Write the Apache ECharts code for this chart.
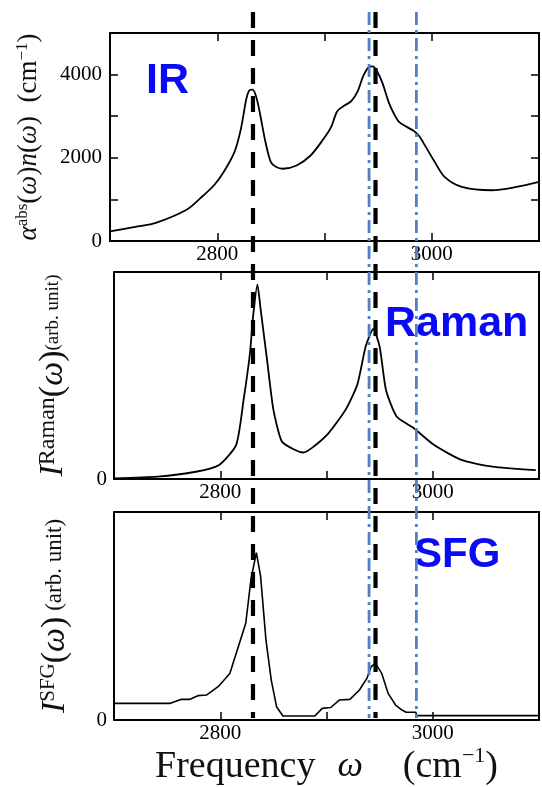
<!DOCTYPE html>
<html>
<head>
<meta charset="utf-8">
<script src="https://cdn.jsdelivr.net/npm/echarts@6/dist/echarts.min.js"></script>
<style>
  html, body { margin: 0; padding: 0; background: #fff; }
  #main { width: 542px; height: 787px; }
</style>
</head>
<body>
<div id="main"></div>
<script>
// IR absorption spectrum (cm^-1)
var irFreq = [2700, 2726, 2742, 2771, 2784, 2797, 2806, 2816, 2822, 2827, 2830, 2833, 2837, 2842, 2845, 2850, 2855, 2861,
  2874, 2887, 2899, 2906, 2912, 2919, 2925, 2931, 2936, 2941, 2945, 2949, 2954, 2960, 2965, 2970, 2983, 2988, 2992,
  3002, 3012, 3028, 3056, 3079, 3100];
var irAbs = [230, 350, 428, 745, 1024, 1340, 1658, 2135, 2689, 3403, 3625, 3640, 3403, 2768, 2372, 1896, 1777, 1737,
  1815, 2055, 2450, 2730, 3125, 3261, 3360, 3602, 3960, 4175, 4200, 4080, 3800, 3325, 3046, 2850, 2650, 2530, 2370,
  1935, 1540, 1300, 1220, 1300, 1420];

// Raman intensity (arb. unit)
var ramanFreq = [2700, 2741, 2777, 2799, 2815, 2822, 2828, 2831, 2835, 2838, 2844, 2850, 2858, 2870, 2878, 2886, 2902,
  2918, 2929, 2937, 2944, 2950, 2956, 2966, 2982, 3001, 3027, 3056, 3097];
var ramanInt = [0.3, 1.1, 3.5, 6.8, 16.5, 38.3, 61, 79, 94, 82, 57.8, 33.5, 18.1, 14.1, 12.8, 14.9, 22.2,
  33.5, 45.6, 64.2, 72.5, 64, 43, 30.2, 24.6, 16.5, 9.2, 6, 4.3];

// SFG intensity (arb. unit)
var sfgFreq = [2700, 2753, 2763, 2771, 2779, 2787, 2798, 2809, 2817, 2824, 2829, 2834, 2838, 2843, 2848, 2853, 2859,
  2889, 2896, 2904, 2912, 2922, 2931, 2938, 2942, 2946, 2952, 2958, 2965, 2971, 2975, 2984, 2985, 3100];
var sfgInt = [8.0, 8.0, 9.9, 9.9, 11.7, 12, 16, 22.4, 35.2, 46.5, 68, 80.5, 69, 38.5, 19.2, 6.4, 1.9,
  1.9, 5.6, 6, 9.6, 9.9, 14.4, 20, 25.6, 27.2, 22.4, 12.8, 7.2, 4.8, 3.7, 3.7, 2.1, 2.1];

// guide lines across all panels
var blackLineFreq = [2833, 2947];
var blueLineFreq = [2941, 2985];

// tick labels shown
var xTickLabels = [2800, 3000];
var irTickLabels = [0, 2000, 4000];
var intTickLabels = [0];

var myChart = echarts.init(document.getElementById('main'));

function pairs(xs, ys) {
  var out = [];
  for (var i = 0; i < xs.length; i++) out.push([xs[i], ys[i]]);
  return out;
}

var serif = 'Liberation Serif';
var frame = { show: true, onZero: false, lineStyle: { color: '#000', width: 2 } };

function bottomX(gi, showName) {
  return {
    type: 'value', gridIndex: gi, min: 2700, max: 3100, interval: 100, position: 'bottom',
    axisLine: frame,
    axisTick: { show: true, inside: true, length: 8, lineStyle: { color: '#000', width: 1.5 } },
    splitLine: { show: false },
    axisLabel: {
      color: '#000', fontFamily: serif, fontSize: 21, margin: 3,
      formatter: function (v) { return xTickLabels.indexOf(v) >= 0 ? String(v) : ''; }
    },
    name: showName ? '{t|Frequency}{g1|}{w|ω}{g2|}{t|(cm}{s|−1}{t|)}' : '',
    nameLocation: 'middle', nameGap: 23,
    nameTextStyle: {
      rich: {
        t: { fontFamily: serif, fontSize: 38, color: '#111', lineHeight: 44 },
        w: { fontFamily: serif, fontSize: 36, fontStyle: 'italic', color: '#111', lineHeight: 44 },
        s: { fontFamily: serif, fontSize: 22, color: '#111', lineHeight: 22, verticalAlign: 'top' },
        g1: { width: 22 },
        g2: { width: 40 }
      }
    }
  };
}
function topX(gi) {
  return {
    type: 'value', gridIndex: gi, min: 2700, max: 3100, interval: 100, position: 'top',
    axisLine: frame,
    axisTick: { show: true, inside: true, length: 8, lineStyle: { color: '#000', width: 1.5 } },
    axisLabel: { show: false }, splitLine: { show: false }
  };
}

var option = {
  animation: false,
  backgroundColor: '#fff',
  grid: [
    { left: 110, top: 33, width: 430, height: 208 },
    { left: 114, top: 272, width: 426, height: 207 },
    { left: 114, top: 512, width: 427, height: 208 },
    { left: 110, top: 12, width: 430, height: 706 }
  ],
  xAxis: [
    bottomX(0, false), topX(0),
    bottomX(1, false), topX(1),
    bottomX(2, true), topX(2),
    { type: 'value', gridIndex: 3, min: 2700, max: 3100, show: false }
  ],
  yAxis: [
    {
      type: 'value', gridIndex: 0, min: 0, max: 5000, interval: 1000, position: 'left',
      axisLine: frame,
      axisTick: { show: true, inside: true, length: 8, lineStyle: { color: '#000', width: 1.5 } },
      splitLine: { show: false },
      axisLabel: {
        color: '#000', fontFamily: serif, fontSize: 21, margin: 8,
        formatter: function (v) { return irTickLabels.indexOf(v) >= 0 ? String(v) : ''; }
      },
      name: '{i|α}{s|abs}{m|(}{i|ω}{m|)}{i|n}{m|(}{i|ω}{m|)  (cm}{s|−1}{m|)}',
      nameLocation: 'middle', nameRotate: 90, nameGap: 67,
      nameTextStyle: {
        rich: {
          m: { fontFamily: serif, fontSize: 27, color: '#111', lineHeight: 29 },
          i: { fontFamily: serif, fontSize: 27, fontStyle: 'italic', color: '#111', lineHeight: 29 },
          s: { fontFamily: serif, fontSize: 17, color: '#111', lineHeight: 17, verticalAlign: 'top' }
        }
      }
    },
    {
      type: 'value', gridIndex: 0, min: 0, max: 5000, interval: 1000, position: 'right',
      axisLine: frame,
      axisTick: { show: true, inside: true, length: 8, lineStyle: { color: '#000', width: 1.5 } },
      axisLabel: { show: false }, splitLine: { show: false }
    },
    {
      type: 'value', gridIndex: 1, min: 0, max: 100, interval: 100, position: 'left',
      axisLine: frame, axisTick: { show: false }, splitLine: { show: false },
      axisLabel: {
        color: '#000', fontFamily: serif, fontSize: 21, margin: 7,
        formatter: function (v) { return intTickLabels.indexOf(v) >= 0 ? String(v) : ''; }
      },
      name: '{I|I}{s|Raman}{m|(}{w|ω}{m|)}{a|(arb. unit)}',
      nameLocation: 'middle', nameRotate: 90, nameGap: 44,
      nameTextStyle: {
        rich: {
          I: { fontFamily: serif, fontSize: 34, fontStyle: 'italic', color: '#111', lineHeight: 34 },
          m: { fontFamily: serif, fontSize: 34, color: '#111', lineHeight: 34 },
          w: { fontFamily: serif, fontSize: 34, fontStyle: 'italic', color: '#111', lineHeight: 34 },
          s: { fontFamily: serif, fontSize: 24, color: '#111', lineHeight: 24, verticalAlign: 'top' },
          a: { fontFamily: serif, fontSize: 19, color: '#111', lineHeight: 26 }
        }
      }
    },
    {
      type: 'value', gridIndex: 1, min: 0, max: 100, position: 'right',
      axisLine: frame, axisTick: { show: false }, axisLabel: { show: false }, splitLine: { show: false }
    },
    {
      type: 'value', gridIndex: 2, min: 0, max: 100, interval: 100, position: 'left',
      axisLine: frame, axisTick: { show: false }, splitLine: { show: false },
      axisLabel: {
        color: '#000', fontFamily: serif, fontSize: 21, margin: 7,
        formatter: function (v) { return intTickLabels.indexOf(v) >= 0 ? String(v) : ''; }
      },
      name: '{I|I}{s|SFG}{m|(}{w|ω}{m|)}{a| (arb. unit)}',
      nameLocation: 'middle', nameRotate: 90, nameGap: 42,
      nameTextStyle: {
        rich: {
          I: { fontFamily: serif, fontSize: 34, fontStyle: 'italic', color: '#111', lineHeight: 34 },
          m: { fontFamily: serif, fontSize: 34, color: '#111', lineHeight: 34 },
          w: { fontFamily: serif, fontSize: 34, fontStyle: 'italic', color: '#111', lineHeight: 34 },
          s: { fontFamily: serif, fontSize: 21, color: '#111', lineHeight: 21, verticalAlign: 'top' },
          a: { fontFamily: serif, fontSize: 23, color: '#111', lineHeight: 28 }
        }
      }
    },
    {
      type: 'value', gridIndex: 2, min: 0, max: 100, position: 'right',
      axisLine: frame, axisTick: { show: false }, axisLabel: { show: false }, splitLine: { show: false }
    },
    { type: 'value', gridIndex: 3, min: 0, max: 1, show: false }
  ],
  graphic: [
    { type: 'text', left: 146, top: 60, style: { text: 'IR', font: 'bold 43px "Liberation Sans"', fill: '#0a0af5' } },
    { type: 'text', left: 385, top: 303, style: { text: 'Raman', font: 'bold 43px "Liberation Sans"', fill: '#0a0af5' } },
    { type: 'text', left: 414, top: 534, style: { text: 'SFG', font: 'bold 42px "Liberation Sans"', fill: '#0a0af5' } }
  ],
  series: [
    {
      name: 'IR', type: 'line', xAxisIndex: 0, yAxisIndex: 0, data: pairs(irFreq, irAbs),
      smooth: 0.3, symbol: 'none', lineStyle: { color: '#000', width: 1.8 }
    },
    {
      name: 'Raman', type: 'line', xAxisIndex: 2, yAxisIndex: 2, data: pairs(ramanFreq, ramanInt),
      smooth: 0.2, symbol: 'none', lineStyle: { color: '#000', width: 1.8 }
    },
    {
      name: 'SFG', type: 'line', xAxisIndex: 4, yAxisIndex: 4, data: pairs(sfgFreq, sfgInt),
      symbol: 'none', lineStyle: { color: '#000', width: 1.6 }
    }
  ]
};

// guide lines drawn on the overlay grid, from top to bottom
for (var k = 0; k < blueLineFreq.length; k++) {
  option.series.push({
    type: 'line', xAxisIndex: 6, yAxisIndex: 6, silent: true, symbol: 'none',
    data: [[blueLineFreq[k], 1], [blueLineFreq[k], 0]],
    lineStyle: { color: '#4f81c2', width: 2.8, type: [13, 5, 3, 5] }
  });
}
for (var k = 0; k < blackLineFreq.length; k++) {
  option.series.push({
    type: 'line', xAxisIndex: 6, yAxisIndex: 6, silent: true, symbol: 'none',
    data: [[blackLineFreq[k], 1], [blackLineFreq[k], 0]],
    lineStyle: { color: '#000', width: 4.2, type: [16, 12] }
  });
}

option && myChart.setOption(option);
</script>
</body>
</html>
